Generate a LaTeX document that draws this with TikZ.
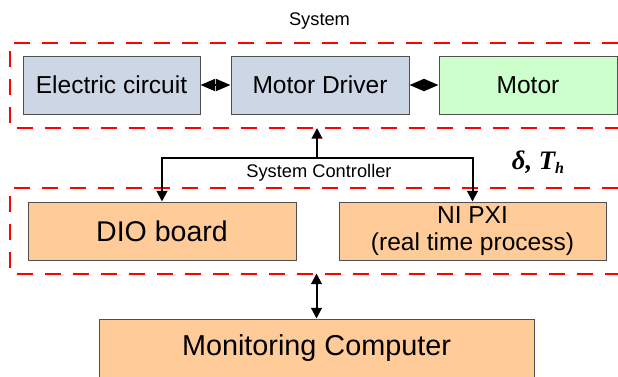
\documentclass[tikz,border=0pt]{standalone}
\usepackage{fontspec}
\setmainfont{Liberation Sans}
\newfontfamily\symfont{Liberation Serif}
\usetikzlibrary{arrows.meta}

\definecolor{boxblue}{RGB}{204,214,228}
\definecolor{boxgreen}{RGB}{204,255,204}
\definecolor{boxorange}{RGB}{255,204,153}
\definecolor{boxline}{RGB}{80,80,80}

\begin{document}
\begin{tikzpicture}[x=0.75pt,y=0.75pt,yscale=-1,xscale=1,
  block/.style={draw=boxline,line width=0.75pt,inner sep=0pt,align=center,minimum height=43.5pt,font=\fontsize{18.4}{20.5}\selectfont},
  group/.style={draw={rgb, 255:red, 255; green, 0; blue, 0},line width=1.5pt,dash pattern=on 12pt off 9pt},
  link/.style={line width=1.5pt,{Triangle[length=11pt,width=9pt]}-{Triangle[length=11pt,width=9pt]}},
  ctrl/.style={line width=1.5pt,-{Triangle[length=8pt,width=8pt]}}]
\useasboundingbox (0,0) rectangle (618,376);

%System group
\draw [group] (618,42.5) -- (10,42.5) -- (10,128) -- (618,128) ;
\node [font=\fontsize{13.7}{16}\selectfont] (syslabel) at (319.5,21) {System};

%Blocks in the system
\node [block,fill=boxblue,minimum width=132.75pt] (ec) at (111.5,85) {Electric circuit};
\node [block,fill=boxblue,minimum width=133.5pt] (md) at (320,85) {Motor Driver};
\node [block,fill=boxgreen,minimum width=133.5pt] (motor) at (528,85) {Motor};

\draw [link] (ec.east) -- (md.west) ;
\draw [link] (md.east) -- (motor.west) ;

%Controller group
\draw [group] (618,188) -- (10,188) -- (10,273.5) -- (618,273.5) ;
\node [block,fill=boxorange,minimum width=201pt,font=\fontsize{21.4}{25}\selectfont] (dio) at (162,231) {DIO board};
\node [block,fill=boxorange,minimum width=200.25pt] (pxi) at (472.5,231) {NI PXI\\(real time process)};
\node [font=\fontsize{13.7}{16}\selectfont] (ctrllabel) at (319,172.5) {System Controller};
\node [font=\symfont\bfseries\itshape\fontsize{20}{22}\selectfont] (param) at (538,162) {δ, T\raisebox{-0.35ex}{\fontsize{12}{13}\selectfont h}};

%Controller links
\coordinate (junction) at (317,158);
\coordinate (systop) at (317,128);
\draw [ctrl] (junction) -- (systop) ;
\draw [ctrl] (junction) -| (dio.north) ;
\draw [ctrl] (junction) -| (pxi.north) ;

%Monitoring
\node [block,fill=boxorange,minimum width=326.25pt,minimum height=44.25pt,font=\fontsize{21.6}{25}\selectfont] (mon) at (316.5,348.5) {Monitoring Computer};
\coordinate (ctrlbot) at (316.5,273.5);
\draw [line width=1.5pt,{Triangle[length=8pt,width=8pt]}-{Triangle[length=8pt,width=8pt]}] (ctrlbot) -- (mon.north) ;

\end{tikzpicture}
\end{document}
